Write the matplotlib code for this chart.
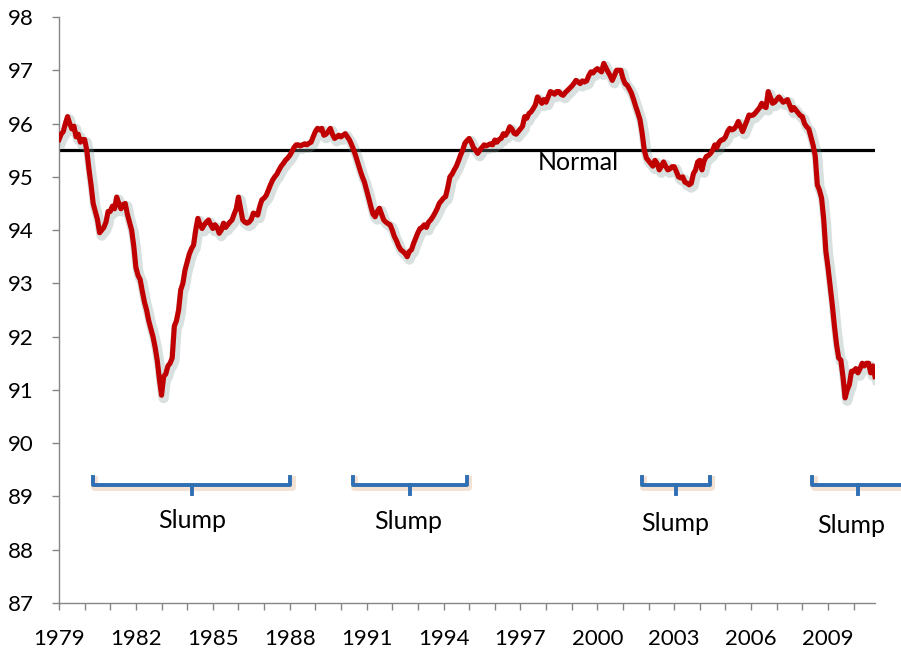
import numpy as np
import matplotlib.pyplot as plt
import matplotlib.patheffects as pe

plt.rcParams['font.family'] = ['Lato', 'DejaVu Sans']

## DATA ##
# monthly index values, Jan 1979 .. Nov 2010
y1979 = [95.7, 95.8, 95.85, 96.0, 96.13, 96.0, 95.9, 95.95, 95.75, 95.8, 95.65, 95.7]
y1980 = [95.7, 95.5, 95.15, 94.85, 94.5, 94.35, 94.2, 93.95, 94.0, 94.05, 94.15, 94.35]
y1981 = [94.35, 94.45, 94.4, 94.62, 94.5, 94.4, 94.48, 94.5, 94.3, 94.15, 94.0, 93.7]
y1982 = [93.3, 93.15, 93.07, 92.85, 92.65, 92.5, 92.3, 92.15, 92.0, 91.8, 91.55, 91.2]
y1983 = [90.9, 91.25, 91.3, 91.45, 91.5, 91.6, 92.2, 92.3, 92.5, 92.88, 93.0, 93.25]
y1984 = [93.4, 93.55, 93.65, 93.72, 94.0, 94.22, 94.1, 94.03, 94.1, 94.15, 94.19, 94.1]
y1985 = [94.03, 94.1, 94.05, 93.94, 94.0, 94.13, 94.05, 94.1, 94.15, 94.19, 94.3, 94.4]
y1986 = [94.62, 94.4, 94.19, 94.15, 94.13, 94.15, 94.2, 94.32, 94.3, 94.28, 94.45, 94.57]
y1987 = [94.6, 94.65, 94.75, 94.85, 94.94, 95.0, 95.05, 95.13, 95.2, 95.25, 95.31, 95.35]
y1988 = [95.4, 95.47, 95.55, 95.6, 95.6, 95.58, 95.6, 95.62, 95.6, 95.63, 95.65, 95.75]
y1989 = [95.85, 95.91, 95.88, 95.91, 95.78, 95.8, 95.85, 95.91, 95.8, 95.72, 95.75, 95.78]
y1990 = [95.75, 95.78, 95.81, 95.75, 95.69, 95.6, 95.5, 95.38, 95.25, 95.12, 95.0, 94.9]
y1991 = [94.75, 94.6, 94.44, 94.3, 94.25, 94.35, 94.41, 94.3, 94.19, 94.15, 94.12, 94.1]
y1992 = [94.0, 93.88, 93.8, 93.7, 93.63, 93.6, 93.56, 93.5, 93.6, 93.63, 93.75, 93.85]
y1993 = [93.95, 94.03, 94.05, 94.1, 94.05, 94.15, 94.19, 94.25, 94.32, 94.4, 94.5, 94.55]
y1994 = [94.6, 94.63, 94.8, 95.0, 95.05, 95.13, 95.2, 95.3, 95.41, 95.5, 95.63, 95.68]
y1995 = [95.72, 95.65, 95.55, 95.5, 95.44, 95.5, 95.55, 95.6, 95.58, 95.6, 95.62, 95.6]
y1996 = [95.69, 95.65, 95.7, 95.72, 95.81, 95.78, 95.84, 95.94, 95.9, 95.82, 95.8, 95.85]
y1997 = [95.9, 95.95, 96.13, 96.1, 96.19, 96.22, 96.28, 96.35, 96.5, 96.45, 96.38, 96.45]
y1998 = [96.4, 96.5, 96.6, 96.58, 96.55, 96.6, 96.6, 96.55, 96.53, 96.58, 96.62, 96.66]
y1999 = [96.7, 96.75, 96.81, 96.78, 96.75, 96.8, 96.78, 96.8, 96.9, 96.97, 96.95, 97.0]
y2000 = [97.03, 97.0, 96.97, 97.13, 97.05, 96.97, 96.9, 96.81, 96.9, 97.0, 97.0, 97.0]
y2001 = [96.85, 96.75, 96.72, 96.65, 96.57, 96.45, 96.32, 96.2, 96.07, 95.82, 95.5, 95.35]
y2002 = [95.3, 95.25, 95.2, 95.31, 95.25, 95.13, 95.2, 95.28, 95.2, 95.13, 95.15, 95.19]
y2003 = [95.19, 95.1, 95.0, 94.98, 95.0, 94.9, 94.88, 94.85, 94.88, 95.06, 95.13, 95.28]
y2004 = [95.31, 95.13, 95.3, 95.38, 95.4, 95.44, 95.5, 95.6, 95.55, 95.65, 95.69, 95.7]
y2005 = [95.75, 95.85, 95.91, 95.88, 95.9, 95.95, 96.04, 95.95, 95.85, 95.95, 96.05, 96.16]
y2006 = [96.15, 96.16, 96.2, 96.25, 96.3, 96.38, 96.32, 96.3, 96.6, 96.5, 96.38, 96.4]
y2007 = [96.45, 96.5, 96.45, 96.4, 96.42, 96.45, 96.35, 96.25, 96.3, 96.25, 96.2, 96.15]
y2008 = [96.13, 96.0, 95.94, 95.9, 95.75, 95.6, 95.4, 94.85, 94.75, 94.6, 94.2, 93.6]
y2009 = [93.3, 92.95, 92.6, 92.2, 91.85, 91.6, 91.56, 91.25, 90.85, 91.0, 91.1, 91.35]
y2010 = [91.35, 91.4, 91.32, 91.4, 91.5, 91.45, 91.5, 91.5, 91.32, 91.45, 91.25]

values = (y1979 + y1980 + y1981 + y1982 + y1983 + y1984 + y1985 + y1986 + y1987
          + y1988 + y1989 + y1990 + y1991 + y1992 + y1993 + y1994 + y1995 + y1996
          + y1997 + y1998 + y1999 + y2000 + y2001 + y2002 + y2003 + y2004 + y2005
          + y2006 + y2007 + y2008 + y2009 + y2010)
start_year = 1979

normal_level = 95.5

# slump periods (start, end) in decimal years
slump_start = [1980.33, 1990.45, 2001.73, 2008.38]
slump_end = [1988.02, 1994.9, 2004.39, 2011.9]
slump_label_x = [1984.2, 1992.63, 2003.02, 2009.92]
slump_label_y = [88.55, 88.53, 88.49, 88.45]

year_ticks = list(range(1979, 2011))
year_labels = [str(y) if (y - 1979) % 3 == 0 else "" for y in year_ticks]

#############################
#          PLOTTING         #
#############################
t = start_year + np.arange(len(values)) / 12.0

fig = plt.figure(figsize=(9.01, 6.51), dpi=100)
ax = fig.add_axes([59/901, 1 - 603/651, (875 - 59)/901, (603 - 17)/651])

ax.plot(t, values, color="#c00000", lw=3.7, solid_joinstyle="round", zorder=3,
        path_effects=[pe.SimpleLineShadow(offset=(1.5, -2), shadow_color="#7f9a9a",
                                          alpha=0.3, linewidth=7.5),
                      pe.Normal()])

ax.axhline(normal_level, color="black", lw=2.3, zorder=2)
ax.text(1999.27, 95.26, "Normal", fontsize=18, ha="center", va="center")

# slump brackets
blue = "#2f6fb3"
y_mid, y_top, y_bot = 89.21, 89.37, 89.04
for x0, x1, lx, ly in zip(slump_start, slump_end, slump_label_x, slump_label_y):
    xc = (x0 + x1) / 2 if x1 < 2011 else x0 + 1.8
    ax.plot([x0, x0, x1, x1], [y_top, y_mid, y_mid, y_top], color=blue, lw=2.8,
            solid_joinstyle="round", clip_on=False, zorder=3,
            path_effects=[pe.SimpleLineShadow(offset=(1, -1.5), shadow_color="#d9a070",
                                              alpha=0.3, linewidth=5), pe.Normal()])
    ax.plot([xc, xc], [y_mid, y_bot], color=blue, lw=2.8, clip_on=False, zorder=3)
    ax.text(lx, ly, "Slump", fontsize=18, ha="center", va="center")

ax.set_xlim(start_year, t[-1])
ax.set_ylim(87, 98)
ax.set_yticks(range(87, 99))
ax.set_xticks(year_ticks)
ax.set_xticklabels(year_labels)

for s in ["top", "right"]:
    ax.spines[s].set_visible(False)
for s in ["left", "bottom"]:
    ax.spines[s].set_color("#868686")
    ax.spines[s].set_linewidth(1)
ax.tick_params(axis="both", colors="#868686", labelcolor="black", labelsize=16,
               length=5, width=1, direction="out")
ax.tick_params(axis="x", pad=14)
ax.tick_params(axis="y", pad=13)

fig.savefig("out.png", dpi=100)
